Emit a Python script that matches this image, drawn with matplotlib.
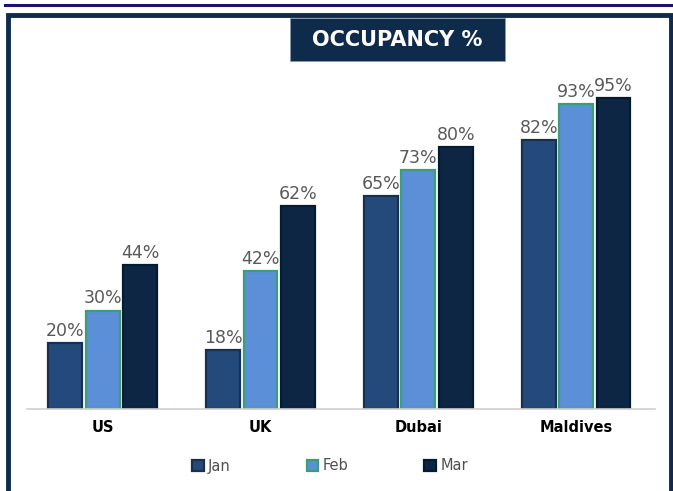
import matplotlib.pyplot as plt
import numpy as np
from matplotlib.patches import Rectangle
from matplotlib.lines import Line2D

# data
places = ['US', 'UK', 'Dubai', 'Maldives']
jan = [20, 18, 65, 82]
feb = [30, 42, 73, 93]
mar = [44, 62, 80, 95]
months = ['Jan', 'Feb', 'Mar']

farben = ['#244a7c', '#5b8fd8', '#0c2644']
kanten = ['#17304f', '#3a9f78', '#061a30']

fig = plt.figure(figsize=(6.73, 4.91), dpi=100)
W, H = 673, 491

# Rahmen und Linie oben
fig.add_artist(Line2D([5 / W, 1], [1 - 5 / H, 1 - 5 / H], color='#1a1170', lw=2.2))
fig.add_artist(Rectangle((8 / W, -0.05), (671 - 8) / W, 1.05 - 15 / H,
                         fill=False, ec='#0f2b4b', lw=3.5))

ax = fig.add_axes([27 / W, (H - 409) / H, (655 - 27) / W, (409 - 70) / H])
x = np.arange(len(places))
w = 0.215
step = 0.237
for i, werte in enumerate([jan, feb, mar]):
    pos = x + (i - 1) * step
    bars = ax.bar(pos, werte, w, color=farben[i], edgecolor=kanten[i], linewidth=1.6,
                  label=months[i])
    for p, v in zip(pos, werte):
        ax.text(p, v + 1.0, f'{v}%', ha='center', va='bottom', fontsize=12.5,
                color='#595959')

ax.set_xlim(-0.48, 3.5)
ax.set_ylim(0, 103.5)
ax.set_yticks([])
ax.set_xticks(x)
ax.set_xticklabels(places, fontsize=10.5, fontweight='bold', color='black')
ax.tick_params(axis='x', length=0, pad=8)
for s in ['top', 'right', 'left']:
    ax.spines[s].set_visible(False)
ax.spines['bottom'].set_color('#d0d0d0')
ax.spines['bottom'].set_linewidth(1.2)

leg = fig.legend(loc='center', bbox_to_anchor=(330 / W, 1 - 466 / H), ncol=3,
                 frameon=False, fontsize=10.5, handlelength=0.8, handleheight=0.8,
                 columnspacing=5.2, handletextpad=0.3)
for t in leg.get_texts():
    t.set_color('#505050')

# Titel
fig.add_artist(Rectangle((290 / W, 1 - 61 / H), 215 / W, 43 / H,
                         fc='#0f2b4b', ec='#8899aa', lw=0.6))
fig.text(397 / W, 1 - 40 / H, 'OCCUPANCY %', ha='center', va='center', fontsize=15,
         fontweight='bold', color='white')

plt.savefig('out.png', dpi=100)
